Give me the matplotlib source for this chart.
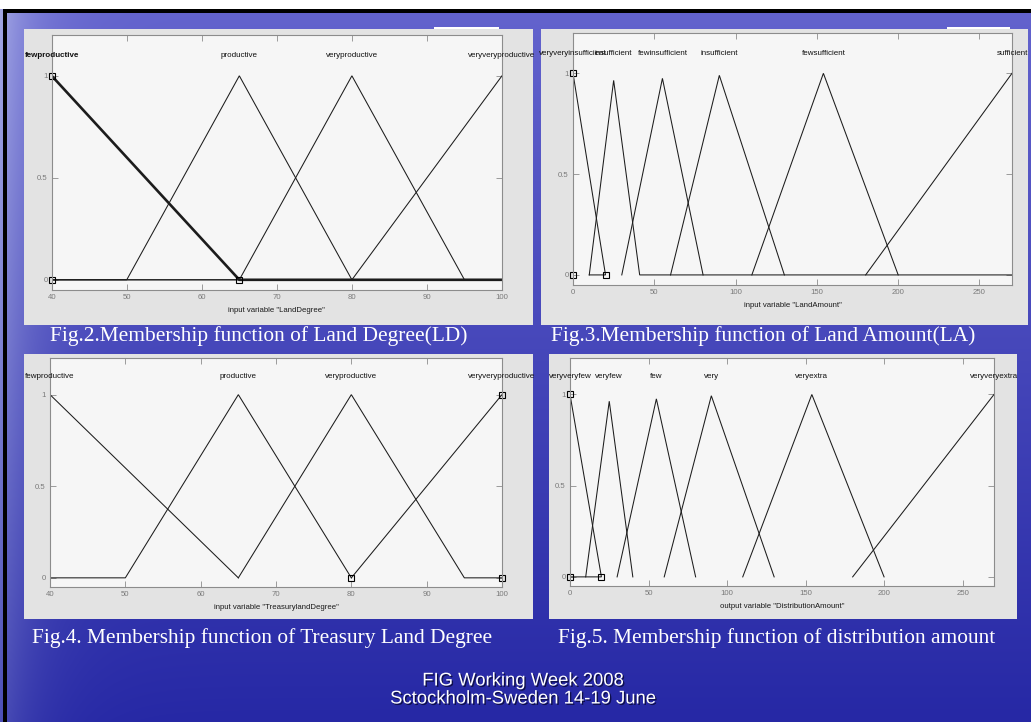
import matplotlib

matplotlib.use("Agg")

import matplotlib.patheffects as pe
import matplotlib.pyplot as plt
import numpy as np
from matplotlib import font_manager
from matplotlib.patches import Rectangle

W, H = 1031, 722

# Land Degree (input)
ld_terms = ["fewproductive", "productive", "veryproductive", "veryveryproductive"]
ld_x = [[40, 65, 100], [40, 50, 65, 80, 100], [40, 65, 80, 95, 100], [40, 80, 100]]
ld_y = [[1, 0, 0], [0, 0, 1, 0, 0], [0, 0, 1, 0, 0], [0, 0, 1]]
ld_params_x = [40, 40, 65]
ld_params_y = [1, 0, 0]

# Land Amount (input)
la_terms = ["veryveryinsufficient", "insufficient", "fewinsufficient", "insufficient", "fewsufficient", "sufficient"]
la_x = [[0, 20, 10], [10, 25, 41, 270], [30, 55, 80], [60, 90, 130], [110, 154, 200], [180, 270]]
la_y = [[1, 0, 0], [0, 0.965, 0, 0], [0, 0.975, 0], [0, 0.99, 0], [0, 1, 0], [0, 1]]
la_params_x = [0, 0, 20]
la_params_y = [1, 0, 0]

# Treasury Land Degree (input)
tld_terms = ["fewproductive", "productive", "veryproductive", "veryveryproductive"]
tld_x = [[40, 65], [40, 50, 65, 80], [65, 80, 95, 100], [80, 100]]
tld_y = [[1, 0], [0, 0, 1, 0], [0, 1, 0, 0], [0, 1]]
tld_params_x = [80, 100, 100]
tld_params_y = [0, 1, 0]

# Distribution Amount (output)
da_terms = ["veryveryfew", "veryfew", "few", "very", "veryextra", "veryveryextra"]
da_x = [[0, 20, 0], [10, 25, 40], [30, 55, 80], [60, 90, 130], [110, 154, 200], [180, 270]]
da_y = [[1, 0, 0], [0, 0.963, 0], [0, 0.976, 0], [0, 0.993, 0], [0, 1, 0], [0, 1]]
da_params_x = [0, 0, 20]
da_params_y = [1, 0, 0]

degree_ticks = [40, 50, 60, 70, 80, 90, 100]
amount_ticks = [0, 50, 100, 150, 200, 250]

captions = [
    "Fig.2.Membership function of Land Degree(LD)",
    "Fig.3.Membership function of Land Amount(LA)",
    "Fig.4. Membership function of Treasury Land Degree",
    "Fig.5. Membership function of distribution amount",
]
footer = ["FIG Working Week 2008", "Sctockholm-Sweden 14-19 June"]

installed = {f.name for f in font_manager.fontManager.ttflist}
if "Liberation Sans Narrow" in installed:
    NARROW, SMALL = "Liberation Sans Narrow", 1.0
else:
    NARROW, SMALL = "Liberation Sans", 0.87


def px_box(x0, y0, x1, y1):
    return [x0 / W, 1 - y1 / H, (x1 - x0) / W, (y1 - y0) / H]


def mf_panel(fig, frame, area, xlim, ticks, terms, xs, ys, px, py, xlabel, bold=None):
    fig.add_artist(Rectangle((frame[0] / W, 1 - frame[3] / H), (frame[2] - frame[0]) / W,
                             (frame[3] - frame[1]) / H, transform=fig.transFigure,
                             facecolor="#e3e3e3", edgecolor="none", zorder=-1))
    ax = fig.add_axes(px_box(*area))
    ax.set_facecolor("#f6f6f6")
    for i, (x, y) in enumerate(zip(xs, ys)):
        lw = 1.9 if i == bold else 0.75
        ax.plot(x, y, color="#1c1c1c", linewidth=lw, solid_joinstyle="miter")
        peak = int(np.argmax(y))
        ax.text(x[peak], 1.1, terms[i], ha="center", va="center", family=NARROW,
                fontsize=6.6 * SMALL, color="#111111",
                fontweight="bold" if i == bold else "normal")
    ax.plot(px, py, "s", markerfacecolor="none", markeredgecolor="black",
            markersize=4.5, markeredgewidth=0.8, clip_on=False)
    ax.set_xlim(*xlim)
    ax.set_ylim(-0.05, 1.2)
    ax.set_xticks(ticks)
    ax.set_yticks([0, 0.5, 1])
    ax.set_yticklabels(["0", "0.5", "1"])
    ax.tick_params(direction="in", top=True, right=True, length=4, width=0.6,
                   color="#8c8c8c", labelcolor="#7a7a7a", labelsize=6.4 * SMALL, pad=3)
    for lab in ax.get_xticklabels() + ax.get_yticklabels():
        lab.set_family(NARROW)
    for sp in ax.spines.values():
        sp.set_color("#8c8c8c")
        sp.set_linewidth(0.8)
    ax.set_xlabel(xlabel, family=NARROW, fontsize=6.4 * SMALL, color="#1a1a1a", labelpad=4)
    return ax


fig = plt.figure(figsize=(W / 100, H / 100), dpi=100)

# slide background: blue gradient, lighter towards the top and the left edge
bg = fig.add_axes([0, 0, 1, 1], zorder=-2)
yy = np.linspace(0, 1, H)[:, None]
xx = np.linspace(0, 1, W)[None, :]
top = np.array([100, 100, 206]) / 255
bottom = np.array([38, 40, 165]) / 255
img = top * (1 - yy[..., None]) + bottom * yy[..., None]
img = img * np.ones((1, W, 1))
glow = (0.55 * np.exp(-xx / 0.035) * (1 - 0.6 * yy))[..., None]
img = img * (1 - glow) + glow * np.array([0.85, 0.88, 0.97])
bg.imshow(np.clip(img, 0, 1), aspect="auto", extent=[0, W, H, 0])
bg.set_xlim(0, W)
bg.set_ylim(H, 0)
bg.axis("off")
bg.add_patch(Rectangle((0, 0), W, 9, facecolor="white", edgecolor="none"))
bg.add_patch(Rectangle((3, 9), W, 3.5, facecolor="black", edgecolor="none"))
bg.add_patch(Rectangle((3, 9), 3.5, H, facecolor="black", edgecolor="none"))
for x0, y0, x1 in [(434, 27, 499), (947, 27, 1010), (930, 354, 993)]:
    bg.add_patch(Rectangle((x0, y0), x1 - x0, 2.5, facecolor="white", edgecolor="none", zorder=3))

mf_panel(fig, (24, 29, 533, 325), (51.7, 35, 502, 290), (40, 100), degree_ticks,
         ld_terms, ld_x, ld_y, ld_params_x, ld_params_y, 'input variable "LandDegree"', bold=0)
mf_panel(fig, (541, 29, 1028, 325), (573, 33, 1012, 285), (0, 270), amount_ticks,
         la_terms, la_x, la_y, la_params_x, la_params_y, 'input variable "LandAmount"')
mf_panel(fig, (24, 354, 533, 619), (50, 358, 502, 587), (40, 100), degree_ticks,
         tld_terms, tld_x, tld_y, tld_params_x, tld_params_y, 'input variable "TreasurylandDegree"')
mf_panel(fig, (549, 354, 1017, 619), (570, 358, 994, 586), (0, 270), amount_ticks,
         da_terms, da_x, da_y, da_params_x, da_params_y, 'output variable "DistributionAmount"')

# captions under each panel
for text, (cx, cy) in zip(captions, [(259, 336), (763, 336), (262, 638), (777, 638)]):
    fig.text(cx / W, 1 - cy / H, text, ha="center", va="center", family="Liberation Serif",
             fontsize=15.4, color="white", zorder=3)

shadow = [pe.SimplePatchShadow(offset=(1, -1), shadow_rgbFace="#0c0c40", alpha=0.9), pe.Normal()]
for text, cy in zip(footer, [681, 699]):
    fig.text(523 / W, 1 - cy / H, text, ha="center", va="center", family="Liberation Sans",
             fontsize=13.3, color="white", path_effects=shadow, zorder=3)

fig.savefig("out.png", dpi=100)
plt.close(fig)
